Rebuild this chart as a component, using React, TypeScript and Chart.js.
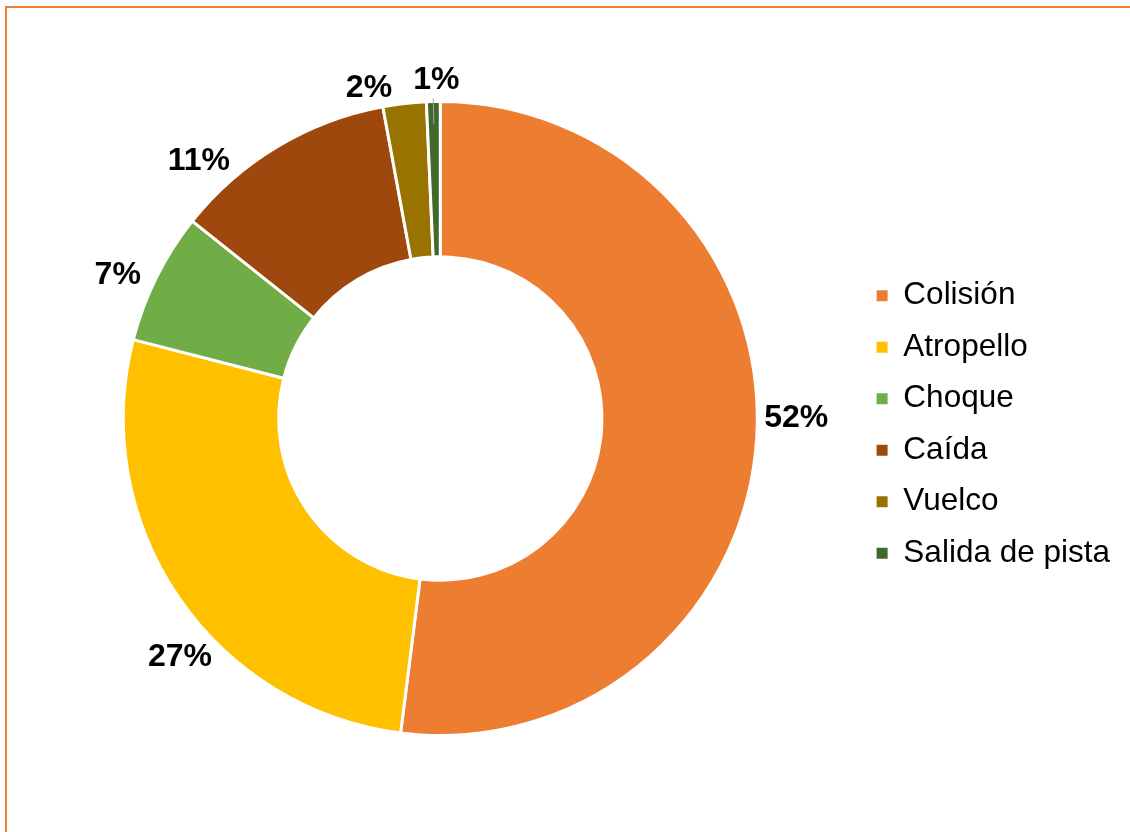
import React, { useEffect, useRef } from "react";
import { Chart, registerables } from "chart.js";

Chart.register(...registerables);

const categories = ["Colisión", "Atropello", "Choque", "Caída", "Vuelco", "Salida de pista"];
const shares = [52.0, 27.0, 6.7, 11.4, 2.2, 0.7];
const sliceColors = ["#ED7D31", "#FFC000", "#70AD47", "#9E480E", "#997300", "#43682B"];

const FONT = "'Liberation Sans', Arial, sans-serif";

const outsideLabels = {
  id: "outsideLabels",
  afterDatasetsDraw(chart: any, _args: any, opts: any) {
    const { ctx } = chart;
    const meta = chart.getDatasetMeta(0);
    const data = chart.data.datasets[0].data as number[];
    const total = data.reduce((a, b) => a + b, 0);
    ctx.save();
    meta.data.forEach((arc: any, i: number) => {
      const { x, y, startAngle, endAngle, outerRadius } = arc.getProps(
        ["x", "y", "startAngle", "endAngle", "outerRadius"],
        true
      );
      const realMid = (startAngle + endAngle) / 2;
      if (opts.leader?.[i]) {
        ctx.strokeStyle = "#A6A6A6";
        ctx.lineWidth = 1;
        ctx.beginPath();
        ctx.moveTo(x + Math.cos(realMid) * (outerRadius + 3), y + Math.sin(realMid) * (outerRadius + 3));
        ctx.lineTo(x + Math.cos(realMid) * (outerRadius - 22), y + Math.sin(realMid) * (outerRadius - 22));
        ctx.stroke();
      }
      const shift = ((opts.angleShift?.[i] ?? 0) * Math.PI) / 180;
      const mid = realMid + shift;
      const d = outerRadius + (opts.offset?.[i] ?? 36);
      const lx = x + Math.cos(mid) * d;
      const ly = y + Math.sin(mid) * d;
      const pct = Math.round((data[i] / total) * 100);
      ctx.font = `bold ${opts.size}px ${FONT}`;
      ctx.fillStyle = "#000";
      ctx.textAlign = "center";
      ctx.textBaseline = "middle";
      ctx.fillText(`${pct}%`, lx, ly);
    });
    ctx.restore();
  },
};

export default function App() {
  const ref = useRef<HTMLCanvasElement | null>(null);

  useEffect(() => {
    document.body.style.margin = "0";
    if (!ref.current) return;
    const chart = new Chart(ref.current, {
      type: "doughnut",
      data: {
        labels: categories,
        datasets: [
          {
            data: shares,
            backgroundColor: sliceColors,
            borderColor: "#FFFFFF",
            borderWidth: 3,
            hoverOffset: 0,
          },
        ],
      },
      options: {
        responsive: false,
        animation: false,
        cutout: "51%",
        radius: 317,
        layout: { padding: { left: 24, right: 10, top: 10, bottom: 5 } },
        plugins: {
          tooltip: { enabled: false },
          legend: {
            position: "right",
            title: { display: true, text: " ", font: { size: 1, lineHeight: 1 }, padding: { top: 4, bottom: 7 } },
            labels: {
              boxWidth: 11,
              boxHeight: 11,
              padding: 20,
              color: "#000",
              font: { family: FONT, size: 31.5 },
              generateLabels: (chart: any) =>
                Chart.overrides.doughnut.plugins.legend.labels
                  .generateLabels(chart)
                  .map((item: any) => ({ ...item, lineWidth: 0, strokeStyle: "transparent" })),
            },
          },
          outsideLabels: {
            size: 32,
            offset: [39, 36, 36, 36, 21, 21],
            angleShift: [-3.6, -8.3, -2.5, -12.2, -5.7, 0.6],
            leader: [false, false, false, false, false, true],
          },
        } as any,
      },
      plugins: [outsideLabels],
    });
    return () => chart.destroy();
  }, []);

  return (
    <div style={{ position: "relative", width: 1130, height: 832, overflow: "hidden", background: "#fff" }}>
      <div
        style={{
          position: "absolute",
          left: 5,
          top: 6,
          width: 1200,
          height: 900,
          borderLeft: "2px solid #ED7D31",
          borderTop: "2px solid #ED7D31",
          boxSizing: "border-box",
        }}
      />
      <canvas ref={ref} width={1130} height={832} style={{ position: "absolute", left: 0, top: 0 }} />
    </div>
  );
}
